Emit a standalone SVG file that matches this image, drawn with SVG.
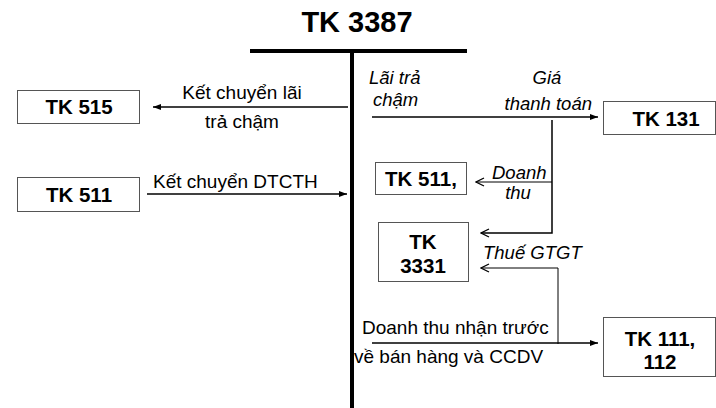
<svg xmlns="http://www.w3.org/2000/svg" width="716" height="408" viewBox="0 0 716 408">
<style>
.box{fill:#fff;stroke:#555;stroke-width:1}
.bt{font-family:"Liberation Sans",Arial,sans-serif;font-weight:bold;font-size:20.5px;fill:#000;text-anchor:middle}
.lb{font-family:"Liberation Sans",Arial,sans-serif;font-size:19px;fill:#000}
.it{font-family:"Liberation Sans",Arial,sans-serif;font-size:18.5px;font-style:italic;fill:#000}
.ln{stroke:#000;stroke-width:1.5;fill:none}
.thin{stroke:#000;stroke-width:1;fill:none}
</style>
<defs>
<marker id="fa" viewBox="0 0 8 6" refX="8" refY="3" markerWidth="8" markerHeight="6" markerUnits="userSpaceOnUse" orient="auto">
<path d="M0,0 L8,3 L0,6 Z" fill="#000"/>
</marker>
<marker id="oa" viewBox="0 0 10 10" refX="9" refY="5" markerWidth="10" markerHeight="10" markerUnits="userSpaceOnUse" orient="auto">
<path d="M1,1 L9,5 L1,9" fill="none" stroke="#000" stroke-width="1.3"/>
</marker>
</defs>
<rect width="716" height="408" fill="#fff"/>
<g id="title">
<text x="357" y="32" font-family="Liberation Sans,Arial,sans-serif" font-weight="bold" font-size="29" text-anchor="middle">TK 3387</text>
<line x1="250" y1="51" x2="467" y2="51" stroke="#000" stroke-width="4"/>
<line x1="352" y1="49" x2="352" y2="408" stroke="#000" stroke-width="4"/>
</g>
<g id="tk515"><rect class="box" x="17.5" y="90.5" width="122" height="33"/><text class="bt" x="79" y="114">TK 515</text></g>
<g id="tk511a"><rect class="box" x="17.5" y="177.5" width="122" height="34"/><text class="bt" x="79" y="202">TK 511</text></g>
<g id="tk131"><rect class="box" x="603.5" y="101.5" width="112" height="33"/><text class="bt" x="666" y="126">TK 131</text></g>
<g id="tk511b"><rect class="box" x="375.5" y="162.5" width="91" height="32"/><text class="bt" x="421" y="186">TK 511,</text></g>
<g id="tk3331"><rect class="box" x="378.5" y="222.5" width="90" height="59"/><text class="bt" x="423" y="249">TK</text><text class="bt" x="423" y="273">3331</text></g>
<g id="tk111"><rect class="box" x="603.5" y="317.5" width="112" height="59"/><text class="bt" x="660" y="346">TK 111,</text><text class="bt" x="660" y="369">112</text></g>
<g id="connectors">
<line class="ln" x1="348" y1="107" x2="153" y2="107" marker-end="url(#fa)"/>
<line class="ln" x1="147" y1="194" x2="347" y2="194" marker-end="url(#fa)"/>
<line class="ln" x1="372" y1="117" x2="598" y2="117" marker-end="url(#fa)"/>
<polyline class="ln" points="552,120 552,233 481,233" marker-end="url(#oa)"/>
<line class="thin" x1="552" y1="182" x2="476" y2="182" marker-end="url(#oa)"/>
<polyline class="thin" points="558,344 558,268 481,268" marker-end="url(#oa)"/>
<line class="ln" x1="372" y1="343" x2="598" y2="343" marker-end="url(#fa)"/>
</g>
<g id="labels">
<text class="lb" x="242" y="99" text-anchor="middle">Kết chuyển lãi</text>
<text class="lb" x="242" y="128" text-anchor="middle">trả chậm</text>
<text class="lb" x="153" y="188">Kết chuyển DTCTH</text>
<text class="it" x="369" y="84">Lãi trả</text>
<text class="it" x="373" y="106">chậm</text>
<text class="it" x="547" y="84" text-anchor="middle">Giá</text>
<text class="it" x="592" y="110" text-anchor="end">thanh toán</text>
<text class="it" x="492" y="179">Doanh</text>
<text class="it" x="518" y="199" text-anchor="middle">thu</text>
<text class="it" x="483" y="259">Thuế GTGT</text>
<text class="lb" x="362" y="334">Doanh thu nhận trước</text>
<text class="lb" x="354" y="363">về bán hàng và CCDV</text>
</g>
</svg>
